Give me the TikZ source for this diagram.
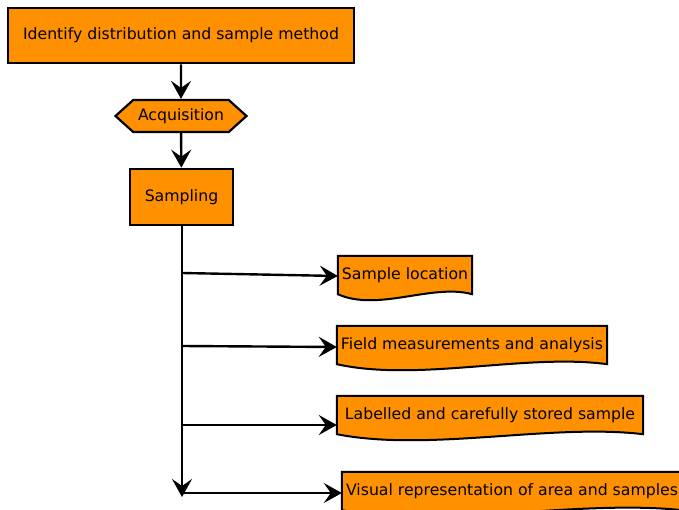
\documentclass[tikz,border=0pt]{standalone}
\usepackage{fontspec}
\setmainfont{DejaVu Sans}
\usetikzlibrary{arrows.meta,shapes.symbols,backgrounds,calc}
\definecolor{boxorange}{RGB}{255,145,0}
\tikzset{
  lbl/.style={font=\fontsize{15.7}{18}\selectfont, inner sep=0pt},
  procbox/.style={lbl, draw=black, line width=2.6pt, fill=boxorange},
  hexbox/.style={lbl, draw=black, line width=2.2pt, fill=boxorange,
    signal, signal to=east and west, signal pointer angle=84},
  docbox/.style={lbl, minimum height=38pt},
  docfill/.style={fill=boxorange, draw=black, line width=2pt},
  arr/.style={line width=2.4pt, -{Stealth[length=18pt,width=20pt,inset=7pt]}},
}
\begin{document}
\begin{tikzpicture}[x=1pt,y=-1pt]
  \useasboundingbox (0,0) rectangle (679,510);

  % main column
  \node[procbox, minimum width=346pt, minimum height=55pt] (ident) at (181,35.5)
    {Identify distribution and sample method};
  \node[hexbox, minimum width=131pt, minimum height=32pt] (acq) at (181,116) {Acquisition};
  \node[procbox, minimum width=103pt, minimum height=56pt] (samp) at (181.5,197) {Sampling};

  % document outputs
  \node[docbox, minimum width=134pt] (s1) at (405,275) {Sample location};
  \node[docbox, minimum width=270pt] (s2) at (472,345) {Field measurements and analysis};
  \node[docbox, minimum width=306pt] (s3) at (490,415) {Labelled and carefully stored sample};
  \node[docbox, minimum width=340pt] (s4) at (512,491) {Visual representation of area and samples};

  % wavy-bottomed document outlines behind the texts
  \begin{scope}[on background layer]
    \foreach \d in {s1,s2,s3,s4} {
      \filldraw[docfill] let \p1=(\d.south west), \p2=(\d.south east), \n1={\x2-\x1} in
        (\d.north west) -- (\d.north east) -- (\p2)
        .. controls (\x2-0.3*\n1, \y2+11pt) and (\x1+0.3*\n1, \y1-18pt) .. (\p1) -- cycle;
    }
  \end{scope}

  % trunk and branch points
  \coordinate (tend) at (182,497);
  \coordinate (b1) at (182,273);
  \coordinate (b2) at (182,346);
  \coordinate (b3) at (182,425);
  \coordinate (b4) at (182,493);

  \draw[arr] (ident) -- (acq);
  \draw[arr] (acq) -- (samp);
  \draw[arr] (samp.south -| tend) -- (tend);
  \draw[arr] (b1) -- ([yshift=-1pt]s1.west);
  \draw[arr] (b2) -- ([yshift=-2pt]s2.west);
  \draw[arr] (b3) -- ([yshift=-10pt]s3.west);
  \draw[arr] (b4) -- ([yshift=-2pt]s4.west);
\end{tikzpicture}
\end{document}
